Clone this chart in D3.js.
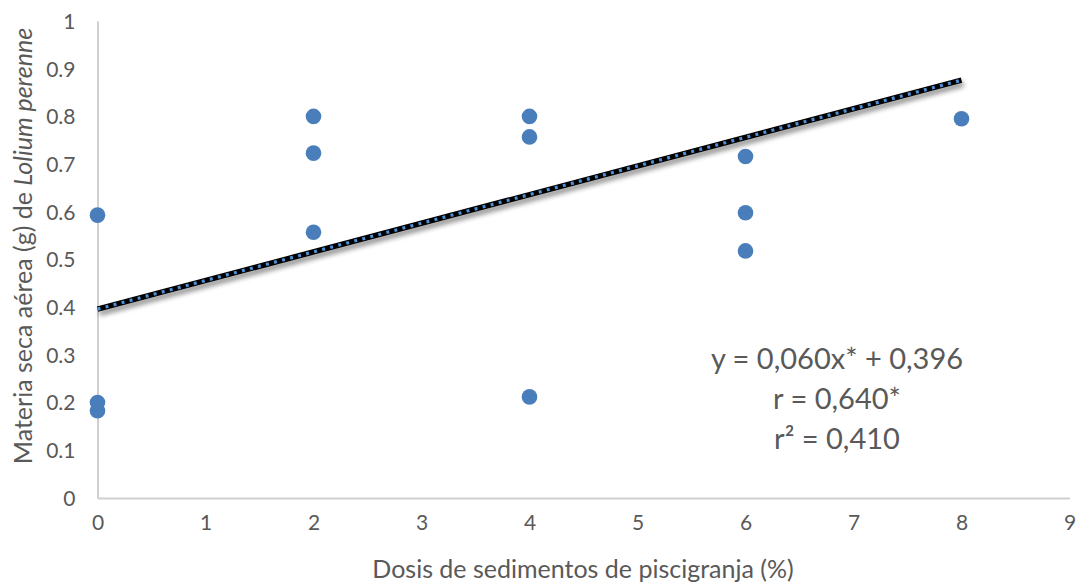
<!DOCTYPE html>
<html><head><meta charset="utf-8">
<script src="https://cdn.jsdelivr.net/npm/d3@7"></script>
<style>body{margin:0;background:#fff;}svg{display:block;font-family:Lato,"Open Sans",sans-serif;}</style>
</head><body><svg id="c" width="1081" height="585"></svg>
<script>
const doses = [0,0,0,2,2,2,4,4,4,6,6,6,8];
const biomass = [0.593,0.200,0.183,0.800,0.723,0.557,0.800,0.757,0.212,0.716,0.598,0.518,0.795];
const xTicks = [0,1,2,3,4,5,6,7,8,9];
const yTicks = [0,0.1,0.2,0.3,0.4,0.5,0.6,0.7,0.8,0.9,1];
const slope = 0.060, intercept = 0.396;
const trendRange = [0,8];
const annotation = ["y = 0,060x* + 0,396","r = 0,640*","r² = 0,410"];

const svg = d3.select("#c");
const x = d3.scaleLinear().domain([0,9]).range([97.5,1069.5]);
const y = d3.scaleLinear().domain([0,1]).range([498,21]);
const grey = "#595959";

const defs = svg.append("defs");
const f = defs.append("filter").attr("id","sh").attr("x","-5%").attr("y","-50%").attr("width","110%").attr("height","300%");
f.append("feGaussianBlur").attr("in","SourceAlpha").attr("stdDeviation",2.5).attr("result","b");
f.append("feOffset").attr("in","b").attr("dx",2).attr("dy",4).attr("result","o");
f.append("feComponentTransfer").attr("in","o").attr("result","o2").append("feFuncA").attr("type","linear").attr("slope",0.45);
const m = f.append("feMerge"); m.append("feMergeNode").attr("in","o2"); m.append("feMergeNode").attr("in","SourceGraphic");

// axes
const xa = svg.append("g").attr("transform",`translate(0,${y(0)})`)
  .call(d3.axisBottom(x).tickValues(xTicks).tickSize(0).tickPadding(13).tickFormat(d3.format("d")));
const ya = svg.append("g").attr("transform",`translate(${x(0)},0)`)
  .call(d3.axisLeft(y).tickValues(yTicks).tickSize(0).tickPadding(22).tickFormat(d=>d===0||d===1?String(d):d.toFixed(1)));
[xa,ya].forEach(g=>{
  g.select(".domain").attr("stroke","#d0d0d0").attr("stroke-width",2);
  g.selectAll("text").attr("fill",grey).attr("font-size",21).attr("font-family",'Lato,"Open Sans",sans-serif');
});
xa.selectAll("text").attr("dy","0.9em");
ya.selectAll("text").attr("dy","0.35em");

// points
svg.append("g").selectAll("circle").data(doses.map((d,i)=>[d,biomass[i]])).join("circle")
  .attr("cx",d=>x(d[0])).attr("cy",d=>y(d[1])).attr("r",7.8).attr("fill","#4a7ebb");

// trendline
const tl = trendRange.map(v=>[x(v),y(intercept+slope*v)]);
const line = d3.line();
svg.append("path").attr("d",line(tl)).attr("stroke","#000").attr("stroke-width",5.5).attr("fill","none").attr("filter","url(#sh)");
svg.append("path").attr("d",line(tl)).attr("stroke","#4f8fd6").attr("stroke-width",3.2).attr("stroke-dasharray","3 5.3").attr("stroke-linecap","butt").attr("fill","none");

// annotation
svg.append("g").selectAll("text").data(annotation).join("text")
  .attr("x",837).attr("y",(d,i)=>369+i*40).attr("text-anchor","middle")
  .attr("font-size",29).attr("fill",grey).text(d=>d);

// axis titles
svg.append("text").attr("x",583).attr("y",578).attr("text-anchor","middle").attr("font-size",25).attr("fill",grey)
  .text("Dosis de sedimentos de piscigranja (%)");
const yt = svg.append("text").attr("transform","translate(32,246) rotate(-90)").attr("text-anchor","middle").attr("font-size",25).attr("fill",grey);
yt.append("tspan").text("Materia seca aérea (g) de ");
yt.append("tspan").attr("font-style","italic").text("Lolium perenne");
</script></body></html>
